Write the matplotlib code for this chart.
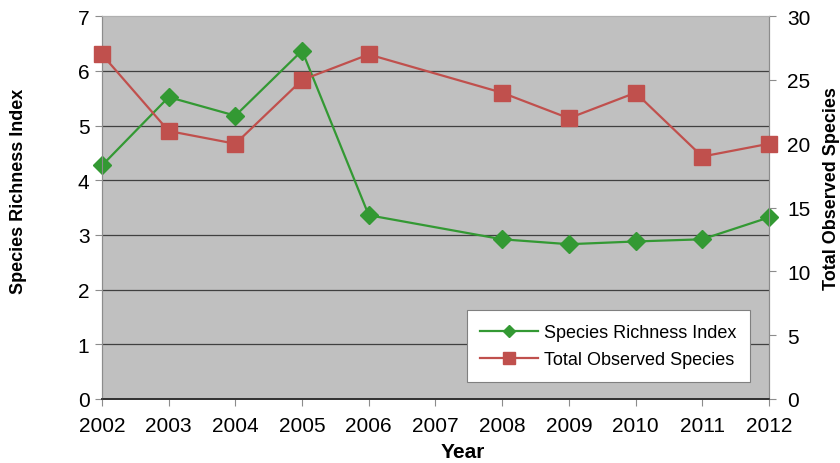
import matplotlib
matplotlib.use('Agg')
import matplotlib.pyplot as plt
from matplotlib.lines import Line2D

plt.rcParams['font.family'] = ['Liberation Sans', 'DejaVu Sans']

years = [2002, 2003, 2004, 2005, 2006, 2008, 2009, 2010, 2011, 2012]
richness = [4.27, 5.52, 5.18, 6.37, 3.36, 2.92, 2.83, 2.88, 2.92, 3.32]
observed = [27, 21, 20, 25, 27, 24, 22, 24, 19, 20]
year_ticks = list(range(2002, 2013))

green = '#339933'
red = '#C0504D'
spine_col = '#8C8C8C'

fig = plt.figure(figsize=(8.4, 4.64), dpi=100)
ax = fig.add_axes([0.1214, 0.138, 0.794, 0.825])
ax.set_facecolor('#C0C0C0')
ax2 = ax.twinx()

for y in range(1, 7):
    ax.axhline(y, color='#404040', lw=0.9, zorder=1)

ax.plot(years, richness, color=green, lw=1.6, marker='D', ms=9.5, zorder=4, clip_on=False)
ax2.plot(years, observed, color=red, lw=1.6, marker='s', ms=11, zorder=3, clip_on=False)

ax.set_xlim(2002, 2012)
ax.set_ylim(0, 7)
ax2.set_ylim(0, 30)
ax.set_xticks(year_ticks)
ax.set_yticks(range(0, 8))
ax2.set_yticks(range(0, 31, 5))

for a in (ax, ax2):
    for s in a.spines.values():
        s.set_color(spine_col)
    a.spines['top'].set_color('#B0B0B0')
    a.spines['bottom'].set_color('#303030')
    a.spines['bottom'].set_linewidth(1.2)
    a.tick_params(labelsize=15, colors='black', length=5, color=spine_col, direction='out')
ax.tick_params(axis='x', pad=7)
ax.tick_params(axis='y', pad=4)
ax2.tick_params(axis='y', pad=8)

fig.text(463 / 840, 1 - 453 / 464, 'Year', fontsize=15, fontweight='bold', ha='center', va='center')
fig.text(19 / 840, 1 - 191 / 464, 'Species Richness Index', fontsize=13, fontweight='bold',
         rotation=90, ha='center', va='center')
fig.text(831 / 840, 1 - 189 / 464, 'Total Observed Species', fontsize=13, fontweight='bold',
         rotation=90, ha='center', va='center')

handles = [Line2D([], [], color=green, lw=1.6, marker='D', ms=6),
           Line2D([], [], color=red, lw=1.6, marker='s', ms=8)]
leg = ax2.legend(handles, ['Species Richness Index', 'Total Observed Species'],
                 loc='center', bbox_to_anchor=(608.5 / 840, 1 - 347 / 464),
                 bbox_transform=fig.transFigure, fontsize=13,
                 frameon=True, fancybox=False, framealpha=1, edgecolor='#808080',
                 handlelength=3.2, handletextpad=0.35, borderpad=0.75, labelspacing=0.55)
leg.get_frame().set_linewidth(0.8)

fig.savefig('out.png', dpi=100)
